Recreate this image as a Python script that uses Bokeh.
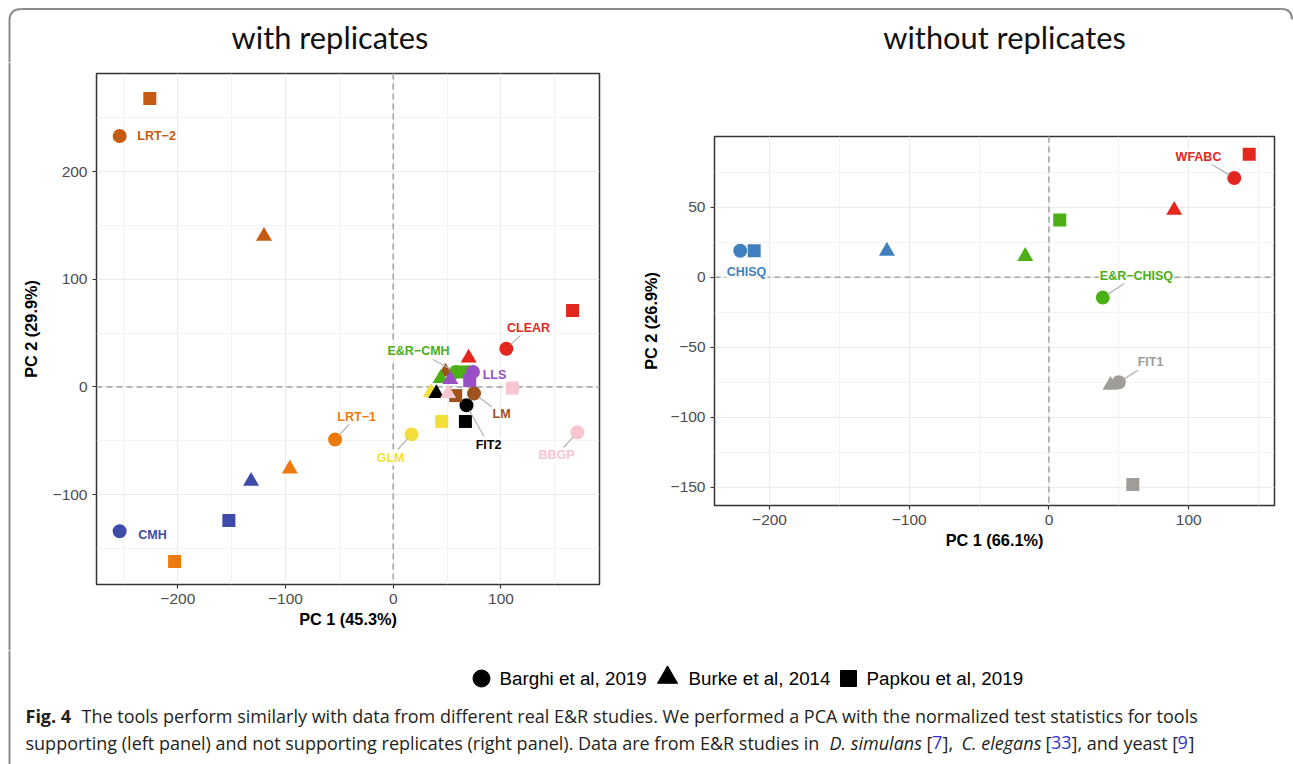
import numpy as np
from bokeh.plotting import figure
from bokeh.models import Range1d, FixedTicker, Span, ColumnDataSource
from bokeh.layouts import row, column
from bokeh.embed import file_html
from bokeh.resources import INLINE
from bokeh.core.properties import value

# ---------------- data ----------------
studies = ["Barghi et al, 2019", "Burke et al, 2014", "Papkou et al, 2019"]
study_markers = ["circle", "triangle", "square"]

left_tools = ["LRT\u22122", "LRT\u22121", "CMH", "GLM", "FIT2", "LM", "E&R\u2212CMH", "LLS", "CLEAR", "BBGP"]
left_colors = ["#C55A11", "#EE7A0C", "#3F4BA8", "#F4DF3A", "#000000", "#A0521C", "#4CAF16", "#984EC4", "#E3271E", "#F8C5D0"]
left_barghi_x = [-254, -54, -254, 17, 68, 75, 58, 74, 105, 171]
left_barghi_y = [233, -48.7, -134, -44, -17, -6, 14, 14, 35.5, -42]
left_burke_x = [-120, -96, -132, 35, 40, 48.5, 44, 53, 70, 51]
left_burke_y = [140, -76, -87.5, -5, -6, 14, 8, 7, 27, -6]
left_papkou_x = [-226, -203, -152.6, 45, 67, 58, 65.5, 71, 166.5, 110.5]
left_papkou_y = [268, -162, -124, -32, -32, -8, 14, 6, 71, -1]
left_label_x = [-219.7, -34, -223.5, -2.5, 88.5, 100.6, 23.5, 94, 125.6, 151.6]
left_label_y = [233.5, -27.4, -137, -65.5, -53.4, -25.5, 33, 11.3, 55.2, -63.6]
left_has_seg = [False, True, False, True, True, True, True, False, True, True]

right_tools = ["CHISQ", "E&R\u2212CHISQ", "WFABC", "FIT1"]
right_colors = ["#4080BF", "#4CAF16", "#E3271E", "#A09C98"]
right_barghi_x = [-221, 38.5, 132.6, 50]
right_barghi_y = [19, -14.5, 71, -75]
right_burke_x = [-116, -17, 89.6, 44]
right_burke_y = [18.8, 15, 48, -77]
right_papkou_x = [-211, 7.7, 143.3, 60]
right_papkou_y = [19, 41, 88, -148]
right_label_x = [-216.5, 62.6, 107, 72.7]
right_label_y = [4.1, 1.3, 86.3, -60.6]
right_has_seg = [False, True, True, True]

left_xlabel, left_ylabel = "PC 1 (45.3%)", "PC 2 (29.9%)"
right_xlabel, right_ylabel = "PC 1 (66.1%)", "PC 2 (26.9%)"
titles = ["with replicates", "without replicates"]

left_xticks, left_xminor = [-200, -100, 0, 100], [-250, -150, -50, 50, 150]
left_yticks, left_yminor = [-100, 0, 100, 200], [-150, -50, 50, 150, 250]
right_xticks, right_xminor = [-200, -100, 0, 100], [-150, -50, 50, 150]
right_yticks, right_yminor = [-150, -100, -50, 0, 50], [-125, -75, -25, 25, 75]

caption_bold = "Fig. 4"
caption_line1 = "The tools perform similarly with data from different real E&R studies. We performed a PCA with the normalized test statistics for tools"
# (text, style, colour, anchor x)
caption_line2 = [
    ("supporting (left panel) and not supporting replicates (right panel). Data are from E&R studies in", "normal", "#231F20", 25),
    ("D. simulans", "italic", "#231F20", 829),
    ("[", "normal", "#231F20", 926),
    ("7", "normal", "#3333CC", 931.5),
    ("],", "normal", "#231F20", 942),
    ("C. elegans", "italic", "#231F20", 961),
    ("[", "normal", "#231F20", 1045),
    ("33", "normal", "#3333CC", 1050.5),
    ("], and yeast [", "normal", "#231F20", 1071),
    ("9", "normal", "#3333CC", 1177),
    ("]", "normal", "#231F20", 1188),
]

W, H = 1293, 764
TOP_H, ROW_H = 62, 588
BOT_H = H - TOP_H - ROW_H
STRIP_W = 12
BORDER_COL = "#8A8A8A"
TICK_FONT = "Liberation Sans"
CAP_FONT = "Open Sans"
TITLE_FONT = "Lato"
CAP_SIZE = "18px"


def minus(v):
    return ("\u2212" + str(abs(v))) if v < 0 else str(v)


def canvas(w, h, xr, yr):
    p = figure(width=w, height=h, x_range=Range1d(*xr), y_range=Range1d(*yr),
               toolbar_location=None, output_backend="svg", min_border=0)
    p.frame_align = False
    p.axis.visible = False
    p.grid.visible = False
    p.outline_line_color = None
    p.background_fill_color = "white"
    p.border_fill_color = "white"
    return p


def panel(w, h, xr, yr, borders, xt, xm, yt, ym, xlab, ylab, ylab_standoff):
    bl, br, bt, bb = borders
    p = figure(width=w, height=h, x_range=Range1d(*xr), y_range=Range1d(*yr),
               toolbar_location=None, output_backend="svg",
               min_border_left=bl, min_border_right=br, min_border_top=bt, min_border_bottom=bb)
    p.frame_align = False
    p.background_fill_color = "white"
    p.border_fill_color = "white"
    p.outline_line_color = "#333333"
    p.outline_line_width = 1.5
    for ax, ticks, minor, lab in ((p.xaxis[0], xt, xm, xlab), (p.yaxis[0], yt, ym, ylab)):
        ax.ticker = FixedTicker(ticks=ticks, minor_ticks=minor)
        ax.major_label_overrides = {t: minus(t) for t in ticks}
        ax.axis_line_color = None
        ax.major_tick_line_color = "#333333"
        ax.major_tick_line_width = 1.2
        ax.major_tick_in = 0
        ax.major_tick_out = 4
        ax.minor_tick_line_color = None
        ax.major_label_text_font = TICK_FONT
        ax.major_label_text_font_size = "15.5px"
        ax.major_label_text_color = "#4D4D4D"
        ax.major_label_standoff = 5
        ax.axis_label = lab
        ax.axis_label_text_font = TICK_FONT
        ax.axis_label_text_font_style = "bold"
        ax.axis_label_text_font_size = "16.3px"
        ax.axis_label_text_color = "#000000"
    p.xaxis.axis_label_standoff = 3
    p.yaxis.axis_label_standoff = ylab_standoff
    for g in (p.xgrid[0], p.ygrid[0]):
        g.grid_line_color = "#EBEBEB"
        g.grid_line_width = 1.2
        g.minor_grid_line_color = "#F0F0F0"
        g.minor_grid_line_width = 0.8
    p.xgrid.ticker = FixedTicker(ticks=xt, minor_ticks=xm)
    p.ygrid.ticker = FixedTicker(ticks=yt, minor_ticks=ym)
    for dim in ("height", "width"):
        s = Span(location=0, dimension=dim, line_color="#A3A3A3", line_width=1.5,
                 line_dash="6 4", level="underlay")
        p.add_layout(s)
    return p


def add_points(p, tools, colors, series):
    for i in range(len(tools)):
        for (xs, ys), mk, sz in zip(series, study_markers, (14, 16, 13)):
            p.scatter(x=[xs[i]], y=[ys[i]], marker=mk, size=sz, color=colors[i], line_width=0)


def add_labels(p, tools, colors, lx, ly, px, py, has, scale):
    x0, y0, x1, y1 = [], [], [], []
    for i in range(len(tools)):
        if not has[i]:
            continue
        dxp = (px[i] - lx[i]) * scale
        dyp = (py[i] - ly[i]) * scale
        d = np.hypot(dxp, dyp)
        hw = len(tools[i]) * 3.7 + 2
        hh = 7.5
        t = min(hw / abs(dxp) if dxp else 1e9, hh / abs(dyp) if dyp else 1e9)
        x0.append(lx[i] + t * dxp / scale)
        y0.append(ly[i] + t * dyp / scale)
        x1.append(px[i] - (dxp / d) * 6 / scale)
        y1.append(py[i] - (dyp / d) * 6 / scale)
    p.segment(x0=x0, y0=y0, x1=x1, y1=y1, line_color="#B5B5B5", line_width=1.3)
    src = ColumnDataSource(dict(x=lx, y=ly, text=tools, color=colors))
    p.text(x="x", y="y", text="text", source=src, text_color="color",
           text_font=value(TICK_FONT), text_font_style="bold", text_font_size="12.5px",
           text_align="center", text_baseline="middle",
           background_fill_color="white", background_fill_alpha=0.85, padding=1)


# ---------------- top strip: titles + border ----------------
top = canvas(W, TOP_H, (0, W), (TOP_H, 0))
top.text(x=[329.5, 1004], y=[37, 37], text=titles, text_font=value(TITLE_FONT),
         text_font_size="30.8px", text_align="center", text_baseline="middle", text_color="#111111")
top.segment(x0=[21], y0=[8.5], x1=[1281], y1=[8.5], line_color=BORDER_COL, line_width=2)
top.segment(x0=[9], y0=[20], x1=[9], y1=[TOP_H], line_color=BORDER_COL, line_width=2)
top.quadratic(x0=[9], y0=[20], x1=[21], y1=[8.5], cx=[9], cy=[8.5], line_color=BORDER_COL, line_width=2)
top.quadratic(x0=[1281], y0=[8.5], x1=[1291.5], y1=[19], cx=[1291.5], cy=[8.5], line_color=BORDER_COL, line_width=2)

# ---------------- left strip: border ----------------
strip = canvas(STRIP_W, ROW_H, (0, STRIP_W), (TOP_H + ROW_H, TOP_H))
strip.segment(x0=[9], y0=[TOP_H], x1=[9], y1=[TOP_H + ROW_H], line_color=BORDER_COL, line_width=2)

# ---------------- left panel ----------------
LS = 1.077
L_W = 84 + 503 + 20
left = panel(L_W, ROW_H, (-275.5, 191.5), (-183.4, 291.1), (84, 20, 11, 66),
             left_xticks, left_xminor, left_yticks, left_yminor, left_xlabel, left_ylabel, 10)
add_points(left, left_tools, left_colors,
           [(left_barghi_x, left_barghi_y), (left_burke_x, left_burke_y), (left_papkou_x, left_papkou_y)])
add_labels(left, left_tools, left_colors, left_label_x, left_label_y,
           left_barghi_x, left_barghi_y, left_has_seg, LS)

# ---------------- right panel ----------------
RS = 1.4
R_W = W - STRIP_W - L_W
right = panel(R_W, ROW_H, (-239.4, 161.4), (-163.0, 100.6), (95, R_W - 95 - 560, 74, 145),
              right_xticks, right_xminor, right_yticks, right_yminor, right_xlabel, right_ylabel, 8)
add_points(right, right_tools, right_colors,
           [(right_barghi_x, right_barghi_y), (right_burke_x, right_burke_y), (right_papkou_x, right_papkou_y)])
add_labels(right, right_tools, right_colors, right_label_x, right_label_y,
           right_barghi_x, right_barghi_y, right_has_seg, RS)

# ---------------- bottom: legend + caption ----------------
bot = canvas(W, BOT_H, (0, W), (H, TOP_H + ROW_H))
bot.segment(x0=[9], y0=[TOP_H + ROW_H], x1=[9], y1=[H], line_color=BORDER_COL, line_width=2)
bot.scatter(x=[481, 667, 848], y=[678, 677, 678], marker=study_markers, size=[17, 20, 16], color="black")
bot.text(x=[499, 688, 866], y=[678, 678, 678], text=studies, text_font=value(TICK_FONT),
         text_font_size="18.8px", text_align="left", text_baseline="middle", text_color="#000000")
bot.text(x=[25], y=[715], text=[caption_bold], text_font=value(CAP_FONT), text_font_style="bold",
         text_font_size=CAP_SIZE, text_align="left", text_baseline="middle", text_color="#231F20")
bot.text(x=[81], y=[715], text=[caption_line1], text_font=value(CAP_FONT),
         text_font_size=CAP_SIZE, text_align="left", text_baseline="middle", text_color="#231F20")
for txt, style, col, xx in caption_line2:
    bot.text(x=[xx], y=[742], text=[txt], text_font=value(CAP_FONT), text_font_style=style,
             text_font_size=CAP_SIZE, text_align="left", text_baseline="middle", text_color=col)

layout = column(top, row(strip, left, right), bot)
open("out.html", "w").write(file_html(layout, INLINE))
